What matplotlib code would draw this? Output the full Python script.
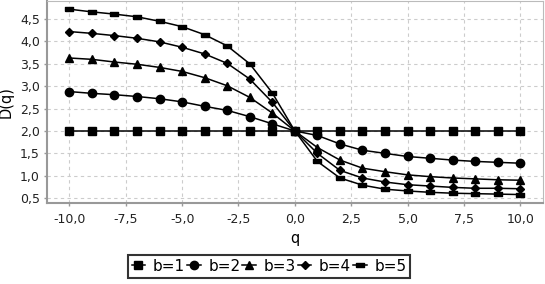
import matplotlib
matplotlib.use("Agg")
import matplotlib.pyplot as plt
from matplotlib.ticker import FuncFormatter, MultipleLocator

# q values and D(q) for each b
q = [-10, -9, -8, -7, -6, -5, -4, -3, -2, -1, 0, 1, 2, 3, 4, 5, 6, 7, 8, 9, 10]
d_b1 = [2.0] * 21
d_b2 = [2.88, 2.84, 2.81, 2.77, 2.72, 2.65, 2.55, 2.46, 2.32, 2.16, 2.0,
        1.90, 1.71, 1.57, 1.50, 1.43, 1.39, 1.35, 1.32, 1.30, 1.28]
d_b3 = [3.63, 3.60, 3.54, 3.49, 3.42, 3.33, 3.19, 3.01, 2.75, 2.40, 2.0,
        1.63, 1.35, 1.17, 1.09, 1.02, 0.98, 0.95, 0.93, 0.91, 0.90]
d_b4 = [4.22, 4.18, 4.13, 4.07, 3.99, 3.87, 3.72, 3.51, 3.16, 2.64, 2.0,
        1.50, 1.12, 0.95, 0.86, 0.80, 0.77, 0.74, 0.72, 0.72, 0.71]
d_b5 = [4.72, 4.66, 4.61, 4.55, 4.45, 4.33, 4.15, 3.90, 3.50, 2.85, 2.0,
        1.32, 0.95, 0.79, 0.70, 0.66, 0.63, 0.61, 0.60, 0.59, 0.58]
labels = ["b=1", "b=2", "b=3", "b=4", "b=5"]

plt.rcParams['font.family'] = ['DejaVu Sans']
plt.rcParams['font.size'] = 9

fig = plt.figure(figsize=(5.45, 2.84), dpi=100)
ax = fig.add_axes([0.086, 0.285, 0.91, 0.711])

flat_rect = [(-1, -0.55), (1, -0.55), (1, 0.55), (-1, 0.55), (-1, -0.55)]
styles = [
    dict(marker="s", markersize=5.4),
    dict(marker="o", markersize=6.0),
    dict(marker="^", markersize=6.0),
    dict(marker="D", markersize=4.3),
    dict(marker=flat_rect, markersize=6.0),
]
series = [d_b1, d_b2, d_b3, d_b4, d_b5]

for vals, lab, st in zip(series, labels, styles):
    ax.plot(q, vals, color="black", lw=1.1, label=lab,
            markerfacecolor="black", markeredgecolor="black", **st)

ax.set_xlim(-11, 11)
ax.set_ylim(0.39, 4.9)
ax.xaxis.set_major_locator(MultipleLocator(2.5))
ax.yaxis.set_major_locator(MultipleLocator(0.5))
fmt = FuncFormatter(lambda v, p: ("%.1f" % v).replace(".", ","))
ax.xaxis.set_major_formatter(fmt)
ax.yaxis.set_major_formatter(fmt)
ax.tick_params(length=2, width=1, pad=3, color="#999999", labelcolor="#222222")
ax.tick_params(axis="x", pad=5)

ax.grid(True, color="#cccccc", linestyle=(0, (3, 3)), lw=0.8)
for s in ["left", "bottom"]:
    ax.spines[s].set_color("#999999")
    ax.spines[s].set_linewidth(1.5)
for s in ["top", "right"]:
    ax.spines[s].set_color("#bbbbbb")
    ax.spines[s].set_linewidth(0.8)

ax.set_xlabel("q", fontsize=10.5, labelpad=4)
ax.set_ylabel("D(q)", fontsize=10.5)
ax.yaxis.set_label_coords(-0.067, 0.5)

leg = ax.legend(loc="upper center", bbox_to_anchor=(0.448, -0.257), ncol=5,
                frameon=True, fancybox=False, handlelength=0.9,
                handletextpad=0.5, columnspacing=0.12, borderpad=0.25,
                borderaxespad=0, fontsize=11)
leg.get_frame().set_edgecolor("black")
leg.get_frame().set_linewidth(1.5)

fig.savefig("out.png", dpi=100)
